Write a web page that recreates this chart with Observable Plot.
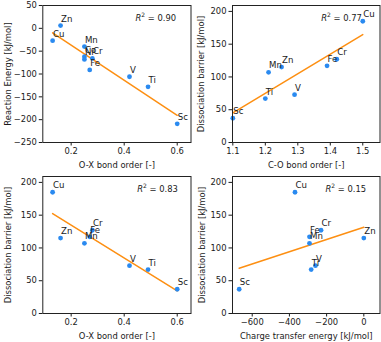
<!DOCTYPE html>
<html><head><meta charset="utf-8">
<script src="https://cdn.jsdelivr.net/npm/d3@7"></script>
<script src="https://cdn.jsdelivr.net/npm/@observablehq/plot@0.6"></script>
<style>
html,body{margin:0;padding:0;background:#fff;}
#chart{position:relative;width:381px;height:342px;overflow:hidden;background:#fff;}
#chart svg{position:absolute;overflow:visible;}
</style></head><body><div id="chart"></div>
<script>
// Panel (a): all ten metals
const elementsA = ["Sc","Ti","V","Cr","Mn","Fe","Co","Ni","Cu","Zn"];
const oxBondOrderA = [0.60,0.49,0.42,0.28,0.25,0.27,0.25,0.25,0.13,0.16];
const reactionEnergy = [-209,-128,-106,-66,-40,-91,-62,-68,-27,6];
// Panels (b)-(d): eight metals
const elements = ["Sc","Ti","V","Cr","Mn","Fe","Cu","Zn"];
const oxBondOrder = [0.60,0.49,0.42,0.28,0.25,0.27,0.13,0.16];
const coBondOrder = [1.10,1.20,1.29,1.42,1.21,1.39,1.50,1.25];
const dissociationBarrier = [37,67,73,127,107,117,185,115];
const chargeTransferEnergy = [-670,-283,-260,-230,-292,-292,-370,0];
// R² values shown in each panel
const r2Values = ["0.90","0.77","0.83","0.15"];
// tick labels
const ticksOX = [0.2,0.4,0.6];
const ticksCO = [1.1,1.2,1.3,1.4,1.5];
const ticksCT = [-600,-400,-200,0];
const ticksRE = [50,0,-50,-100,-150,-200,-250];
const ticksDB = [0,50,100,150,200];

const BLUE = "#2a8af0", ORANGE = "#fd8f12", INK = "#1a1a1a";
const FONT = "DejaVu Sans";
const ns = "http://www.w3.org/2000/svg";

const tableA = elementsA.map((el,i)=>({el, x: oxBondOrderA[i], y: reactionEnergy[i]}));
const tableB = elements.map((el,i)=>({el, x: coBondOrder[i], y: dissociationBarrier[i]}));
const tableC = elements.map((el,i)=>({el, x: oxBondOrder[i], y: dissociationBarrier[i]}));
const tableD = elements.map((el,i)=>({el, x: chargeTransferEnergy[i], y: dissociationBarrier[i]}));

function panel(o) {
  const svg = Plot.plot({
    width: 191, height: 171,
    marginLeft: o.ml, marginRight: o.mr, marginTop: 5, marginBottom: 29,
    x: {domain: o.xDomain},
    y: {domain: o.yDomain},
    style: {fontFamily: FONT, fontSize: "8.4px", color: INK, background: "transparent", overflow: "visible"},
    marks: [
      Plot.linearRegressionY(o.data, {x: "x", y: "y", stroke: ORANGE, strokeWidth: 1.5, ci: 0}),
      Plot.dot(o.data, {x: "x", y: "y", r: 2.4, fill: BLUE, stroke: null}),
      Plot.text(o.data, {x: "x", y: "y", text: "el", textAnchor: "start", lineAnchor: "bottom", dx: 0.5, dy: -4, fill: INK, fontSize: 8.6}),
      Plot.axisX({ticks: o.xTicks, tickFormat: o.xFormat, tickSize: 3.5, tickPadding: 2, label: null, fontSize: 8.4}),
      Plot.axisY({ticks: o.yTicks, tickFormat: d3.format("d"), tickSize: 3.5, tickPadding: 2.5, label: null, fontSize: 8.4}),
      Plot.frame({stroke: "#222", strokeWidth: 1}),
      Plot.text([o.xLabel], {frameAnchor: "bottom", dy: 22.5, lineAnchor: "middle", fill: INK, fontSize: 8.4}),
      Plot.text([o.yLabel], {frameAnchor: "left", dx: o.ylx, rotate: -90, lineAnchor: "middle", textAnchor: "middle", fill: INK, fontSize: 8.4}),
      Plot.text(["R2 = " + o.r2], {frameAnchor: "top-left", dx: o.r2dx, dy: 15, textAnchor: "start", lineAnchor: "bottom", fill: INK, fontSize: 8.4})
    ]
  });
  for (const t of svg.querySelectorAll("text")) {
    if (t.textContent.startsWith("R2 = ")) {
      const val = t.textContent.slice(5);
      t.textContent = "";
      const a = document.createElementNS(ns, "tspan"); a.setAttribute("font-style", "italic"); a.textContent = "R";
      const b = document.createElementNS(ns, "tspan"); b.setAttribute("dy", "-3.5"); b.setAttribute("font-size", "6"); b.textContent = "2";
      const c = document.createElementNS(ns, "tspan"); c.setAttribute("dy", "3.5"); c.textContent = " = " + val;
      t.append(a, b, c);
    }
  }
  svg.style.left = o.left + "px";
  svg.style.top = o.top + "px";
  document.getElementById("chart").appendChild(svg);
}

const fmt1 = d3.format(".1f");
panel({data: tableA, xDomain: [0.093, 0.652], yDomain: [-250, 50], xTicks: ticksOX, yTicks: ticksRE, xFormat: fmt1,
  xLabel: "O-X bond order [-]", yLabel: "Reaction Energy [kJ/mol]", r2: r2Values[0], r2dx: 92.7, ylx: -35,
  ml: 42.3, mr: 0.5, left: 0, top: 0});
panel({data: tableB, xDomain: [1.099, 1.553], yDomain: [0, 209], xTicks: ticksCO, yTicks: ticksDB, xFormat: fmt1,
  xLabel: "C-O bond order [-]", yLabel: "Dissociation barrier [kJ/mol]", r2: r2Values[1], r2dx: 88.7, ylx: -31.5,
  ml: 42, mr: 1.5, left: 190, top: 0});
panel({data: tableC, xDomain: [0.093, 0.652], yDomain: [0, 209], xTicks: ticksOX, yTicks: ticksDB, xFormat: fmt1,
  xLabel: "O-X bond order [-]", yLabel: "Dissociation barrier [kJ/mol]", r2: r2Values[2], r2dx: 94.4, ylx: -35,
  ml: 42.3, mr: 0.5, left: 0, top: 171});
panel({data: tableD, xDomain: [-706, 87], yDomain: [0, 209], xTicks: ticksCT, yTicks: ticksDB, xFormat: d3.format("d"),
  xLabel: "Charge transfer energy [kJ/mol]", yLabel: "Dissociation barrier [kJ/mol]", r2: r2Values[3], r2dx: 93, ylx: -30.5,
  ml: 42, mr: 1.5, left: 190, top: 171});
</script></body></html>
